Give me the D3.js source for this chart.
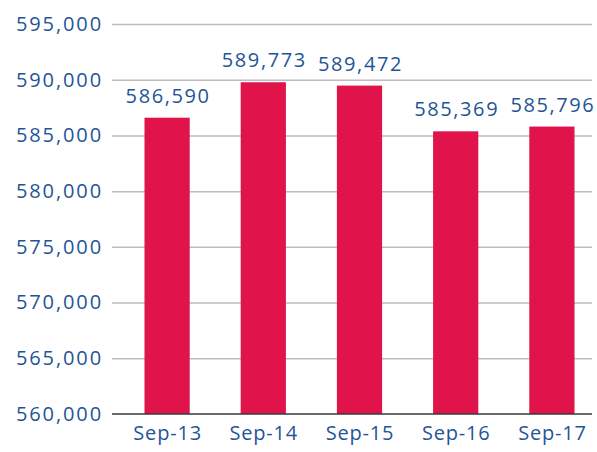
<!DOCTYPE html>
<head>
  <meta charset="utf-8">
  <script src="https://d3js.org/d3.v7.min.js"></script>
  <style>
    body { margin: 0; background: #fff; }
    text { font-family: "Open Sans", sans-serif; fill: #1f5597; }
    .grid line { stroke: #bdbdbd; stroke-width: 1.5; }
    .grid path { display: none; }
    .y path, .y line { display: none; }
    .x path { stroke: #3a3a3a; stroke-width: 1.5; }
    .x line { display: none; }
    .bar { fill: #e0134a; }
  </style>
</head>
<body>
  <script>
    var categories = ["Sep-13", "Sep-14", "Sep-15", "Sep-16", "Sep-17"];
    var values = [586590, 589773, 589472, 585369, 585796];
    var yTicks = [560000, 565000, 570000, 575000, 580000, 585000, 590000, 595000];

    var width = 597, height = 452;
    var plotLeft = 112, plotRight = 592, plotTop = 24, plotBottom = 414;

    var svg = d3.select("body").append("svg")
        .attr("width", width)
        .attr("height", height);

    var y = d3.scaleLinear()
        .domain([560000, 595000])
        .range([plotBottom, plotTop]);

    var x = d3.scaleBand()
        .domain(categories)
        .range([119, 600])
        .paddingInner(0.53)
        .paddingOuter(0.265);

    var fmt = d3.format(",");

    // gridlines
    svg.append("g")
        .attr("class", "grid")
        .attr("transform", "translate(" + plotLeft + ",0)")
        .call(d3.axisLeft(y).tickValues(yTicks.slice(1)).tickSize(-(plotRight - plotLeft)).tickFormat(""));

    // y labels
    svg.append("g")
        .attr("class", "y")
        .attr("transform", "translate(" + plotLeft + ",0)")
        .call(d3.axisLeft(y).tickValues(yTicks).tickFormat(fmt).tickSize(0).tickPadding(9))
        .selectAll("text")
          .style("font-size", "20px")
          .style("letter-spacing", "1.9px")
          .style("fill", "#1f5597");

    svg.selectAll(".bar")
        .data(values)
      .enter().append("rect")
        .attr("class", "bar")
        .attr("x", function(d, i) { return x(categories[i]); })
        .attr("width", x.bandwidth())
        .attr("y", function(d) { return y(d); })
        .attr("height", function(d) { return plotBottom - y(d); });

    svg.selectAll(".val")
        .data(values)
      .enter().append("text")
        .attr("class", "val")
        .attr("x", function(d, i) { return x(categories[i]) + x.bandwidth() / 2 + 1; })
        .attr("y", function(d) { return y(d) - 15; })
        .attr("text-anchor", "middle")
        .style("font-size", "20px")
        .style("letter-spacing", "1.6px")
        .text(function(d) { return fmt(d); });

    // x axis
    var xAxisG = svg.append("g")
        .attr("class", "x")
        .attr("transform", "translate(0," + plotBottom + ")")
        .call(d3.axisBottom(x).tickSize(0).tickPadding(12));
    xAxisG.select(".domain").attr("d", "M" + plotLeft + ",0H" + plotRight);
    xAxisG.selectAll("text")
        .attr("dx", "0.5px")
        .style("font-size", "20px")
        .style("letter-spacing", "0.8px")
        .style("fill", "#1f5597");
  </script>
</body>
